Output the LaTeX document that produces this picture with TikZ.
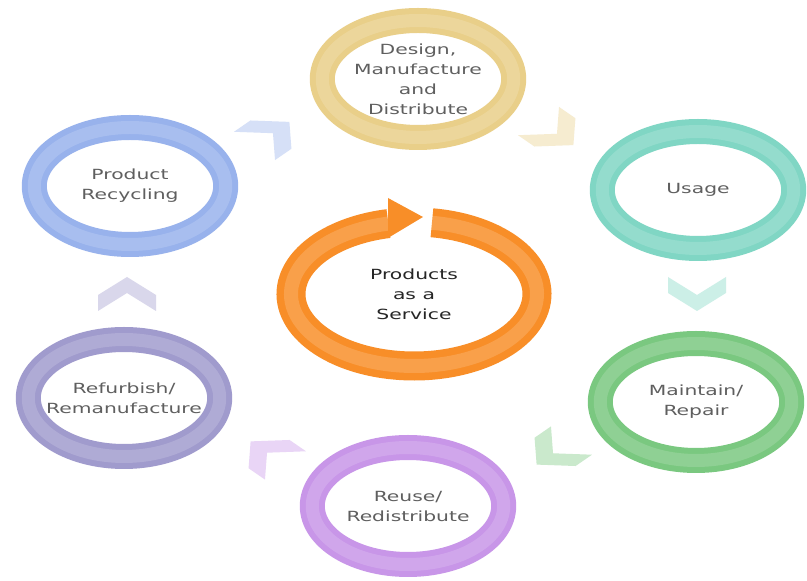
\documentclass[tikz,border=0pt]{standalone}
\usepackage{fontspec}
\setmainfont{DejaVu Sans}
\usetikzlibrary{shapes.geometric, calc}
\definecolor{CDesign}{RGB}{233, 207, 137}
\definecolor{CUsage}{RGB}{128, 214, 196}
\definecolor{CMaintain}{RGB}{122, 200, 128}
\definecolor{CReuse}{RGB}{200, 150, 232}
\definecolor{CRefurb}{RGB}{160, 155, 205}
\definecolor{CRecyc}{RGB}{152, 178, 236}
\definecolor{COrange}{RGB}{248, 142, 40}
\definecolor{TextGray}{RGB}{95, 95, 95}

\begin{document}
\begin{tikzpicture}[x=1pt, y=1pt,
    ring/.style={ellipse, draw=#1, line width=25pt, xscale=1.45,
      minimum width=132pt, minimum height=117pt, inner sep=0pt,
      postaction={draw=white, draw opacity=0.16, line width=13pt}},
    lbl/.style={align=center, xscale=1.45, text=TextGray,
      font=\fontsize{14}{20}\selectfont}]
    \useasboundingbox (0,0) rectangle (807,581);
    \fill[white] (0,0) rectangle (807,581);

    % Outer rings
    \node[ring=CDesign] (design) at (418,502) {};
    \node[ring=CUsage] (usage) at (698,391) {};
    \node[ring=CMaintain] (maintain) at (696,179) {};
    \node[ring=CReuse] (reuse) at (408,75) {};
    \node[ring=CRefurb] (refurb) at (124,183) {};
    \node[ring=CRecyc] (recyc) at (130,395) {};

    \node[lbl] (designtxt) at (design) {Design,\\Manufacture\\and\\Distribute};
    \node[lbl] (usagetxt) at (usage) {Usage};
    \node[lbl] (maintaintxt) at (maintain) {Maintain/\\Repair};
    \node[lbl] (reusetxt) at (reuse) {Reuse/\\Redistribute};
    \node[lbl] (refurbtxt) at (refurb) {Refurbish/\\Remanufacture};
    \node[lbl] (recyctxt) at (recyc) {Product\\Recycling};

    % Chevrons between the rings
    \foreach \from/\to/\ang/\col in {recyc/design/45/CRecyc, design/usage/-45/CDesign,
        usage/maintain/-90/CUsage, maintain/reuse/-135/CMaintain,
        reuse/refurb/135/CReuse, refurb/recyc/90/CRefurb}
      \fill[\col!40, shift={($(\from)!0.5!(\to)$)}, xscale=1.45, rotate=\ang]
        (15,0) -- (-3,20) -- (-19,20) -- (-1,0) -- (-19,-20) -- (-3,-20) -- cycle;

    % Centre cycle
    \node[lbl, text=black!85] (paas) at (414,287) {Products\\as a\\Service};
    \draw[COrange, line width=29pt,
      postaction={draw=white, draw opacity=0.16, line width=14pt}]
      ([shift={(81.6:123 and 72)}]paas.center)
      arc[start angle=81.6, end angle=-258, x radius=123, y radius=72];
    \fill[COrange] ([shift={(-26,96)}]paas.center) -- ([shift={(9,77)}]paas.center)
      -- ([shift={(-26,56)}]paas.center) -- cycle;
  \end{tikzpicture}
\end{document}
